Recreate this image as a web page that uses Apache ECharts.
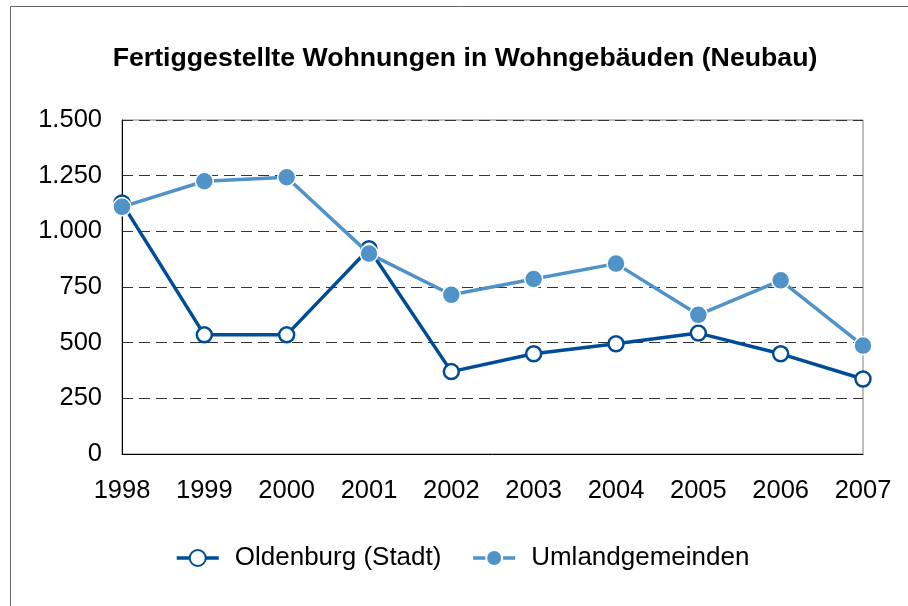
<!DOCTYPE html>
<html>
<head>
<meta charset="utf-8">
<script src="https://cdn.jsdelivr.net/npm/echarts@6/dist/echarts.min.js"></script>
<style>
    html, body { margin: 0; padding: 0; background: #fff; }
    #chart { width: 908px; height: 606px; }
</style>
</head>
<body>
<div id="chart"></div>
<script>
const years = ['1998', '1999', '2000', '2001', '2002', '2003', '2004', '2005', '2006', '2007'];
const oldenburg = [1127, 535, 535, 922, 370, 450, 495, 543, 450, 337];
const umland = [1110, 1225, 1243, 900, 715, 786, 855, 625, 780, 487];

// 1500 -> "1.500"
const deNum = v => String(v).replace(/\B(?=(\d{3})+(?!\d))/g, '.');

const font = '"Liberation Sans", Arial, sans-serif';

const options = {
    animation: false,
    title: {
        text: 'Fertiggestellte Wohnungen in Wohngebäuden (Neubau)',
        left: 460,
        top: 40,
        textAlign: 'center',
        textStyle: { fontFamily: font, fontSize: 26.7, fontWeight: 'bold', color: '#000' },
    },
    graphic: [
        {
            type: 'rect',
            shape: { x: 10.5, y: 6.5, width: 1000, height: 1000 },
            style: { fill: 'none', stroke: '#666', lineWidth: 1 },
            silent: true,
            z: -1,
        },
    ],
    legend: {
        top: 545,
        left: 175,
        padding: 0,
        itemWidth: 42,
        itemHeight: 20,
        itemGap: 30,
        lineStyle: { width: 3.5 },
        textStyle: { fontFamily: font, fontSize: 26, color: '#000', padding: [0, 0, 0, 11] },
        data: ['Oldenburg (Stadt)', 'Umlandgemeinden'],
    },
    grid: {
        left: 122,
        right: 45,
        top: 120,
        bottom: 152,
        show: true,
        borderColor: '#808080',
        borderWidth: 1,
    },
    xAxis: {
        type: 'category',
        data: years,
        boundaryGap: false,
        axisLine: { lineStyle: { color: '#000', width: 1 } },
        axisTick: { show: false },
        axisLabel: { fontFamily: font, fontSize: 25.5, color: '#000', margin: 24 },
    },
    yAxis: {
        type: 'value',
        min: 0,
        max: 1500,
        interval: 250,
        axisLine: { show: true, lineStyle: { color: '#000', width: 1 } },
        axisTick: { show: false },
        axisLabel: { fontFamily: font, fontSize: 25.5, color: '#000', margin: 20, formatter: deNum },
        splitLine: { lineStyle: { color: '#333', type: [11, 6], width: 1 } },
    },
    series: [
        {
            name: 'Oldenburg (Stadt)',
            type: 'line',
            data: oldenburg,
            symbol: 'circle',
            symbolSize: 15,
            lineStyle: { color: '#004C98', width: 3.5 },
            itemStyle: { color: '#fff', borderColor: '#004C98', borderWidth: 2.5 },
            z: 2,
        },
        {
            name: 'Umlandgemeinden',
            type: 'line',
            data: umland,
            symbol: 'circle',
            symbolSize: 18,
            lineStyle: { color: '#4F93C9', width: 3.5 },
            itemStyle: { color: '#4F93C9', borderColor: '#fff', borderWidth: 1.5 },
            z: 3,
        },
    ],
};

const chart = echarts.init(document.getElementById('chart'));
chart.setOption(options);
</script>
</body>
</html>
